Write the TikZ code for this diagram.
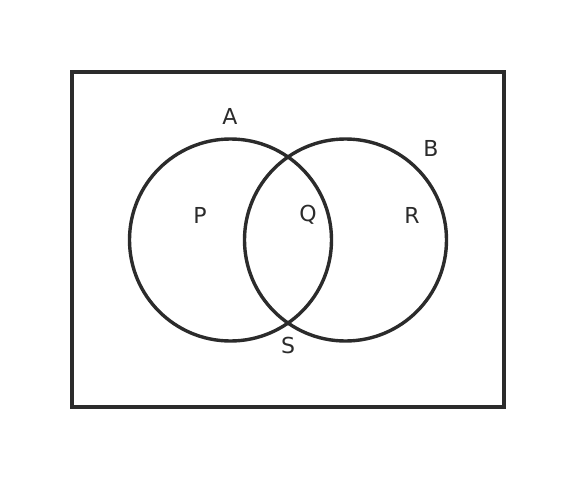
\documentclass[tikz,border=0pt]{standalone}
\usepackage{fontspec}
\setmainfont{DejaVu Sans}
\definecolor{ink}{HTML}{2B2B2B}
\tikzset
{
  frame/.style={line width=3.4pt,ink},
  ring/.style={line width=3.4pt,ink},
  tag/.style={text=ink,font=\fontsize{22}{26}\selectfont,inner sep=0pt}
}
\begin{document}
\begin{tikzpicture}[x=1pt,y=-1pt]
\useasboundingbox (0,0) rectangle (576,480);
\draw[frame] (72,72) rectangle (504,407);
%两个圆
\draw[ring] (230.5,240) circle[radius=101];
\draw[ring] (345.5,240) circle[radius=101];
%标签
\node[tag] (A) at (230,116) {A};
\node[tag] (B) at (431,148) {B};
\node[tag] (P) at (200,215) {P};
\node[tag] (Q) at (308,215) {Q};
\node[tag] (R) at (412,215) {R};
\node[tag] (S) at (288,345) {S};
\end{tikzpicture}
\end{document}
